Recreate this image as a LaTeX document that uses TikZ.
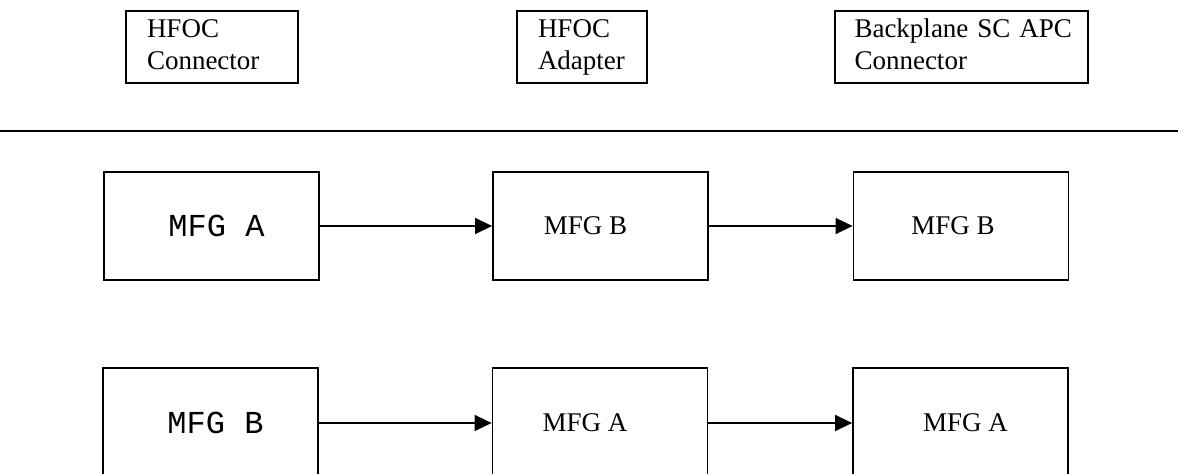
\documentclass[tikz,border=0pt]{standalone}
\usepackage{fontspec}
\setmainfont{Liberation Serif}
\newfontfamily\mfgmono{Liberation Mono}
\usetikzlibrary{arrows.meta}
\tikzset{
  topbox/.style={draw, line width=0.9pt, rectangle, align=left, inner xsep=10.5pt, inner ysep=0pt,
    minimum height=36pt, font=\fontsize{13.5}{16}\selectfont},
  mfgbox/.style={draw, line width=0.9pt, rectangle, minimum width=107.5pt, inner sep=0pt,
    font=\fontsize{13.5}{16}\selectfont},
  mono/.style={font=\fontsize{16}{19}\selectfont\mfgmono},
  link/.style={line width=0.75pt, -{Triangle[length=8.5pt,width=8pt]}},
  rule/.style={line width=1pt}
}
\begin{document}
\begin{tikzpicture}[x=0.5pt,y=-0.5pt]
\useasboundingbox (0,0) rectangle (1178,474);
% header boxes
\node[topbox, text width=65pt] (hc) at (212,47) {\strut HFOC\\\strut Connector};
\node[topbox, text width=44pt] (ha) at (582,47) {\strut HFOC\\\strut \mbox{Adapter}};
\node[topbox, text width=107pt, inner xsep=9.75pt] (bp) at (961.5,47) {\strut\mbox{Backplane SC APC}\\\strut Connector};
% separator
\coordinate (rl) at (0,131);
\coordinate (rr) at (1178,131);
\draw[rule] (rl) -- (rr);
% row 1
\node[mfgbox, mono, minimum height=54pt] (a1) at (211.5,226) {\hspace*{5pt}MFG A};
\node[mfgbox, minimum height=54pt] (b1) at (600.5,226) {\hspace*{-15pt}MFG B};
\node[mfgbox, minimum height=54pt] (c1) at (961,226) {\hspace*{-8pt}MFG B};
\draw[link] (a1) -- (b1);
\draw[link] (b1) -- (c1);
% row 2
\node[mfgbox, mono, minimum height=55pt] (a2) at (210.5,423) {\hspace*{5pt}MFG B};
\node[mfgbox, minimum height=55pt] (b2) at (600,423) {\hspace*{-15pt}MFG A};
\node[mfgbox, minimum height=55pt] (c2) at (960.5,423) {\hspace*{5pt}MFG A};
\draw[link] (a2) -- (b2);
\draw[link] (b2) -- (c2);
\end{tikzpicture}
\end{document}
